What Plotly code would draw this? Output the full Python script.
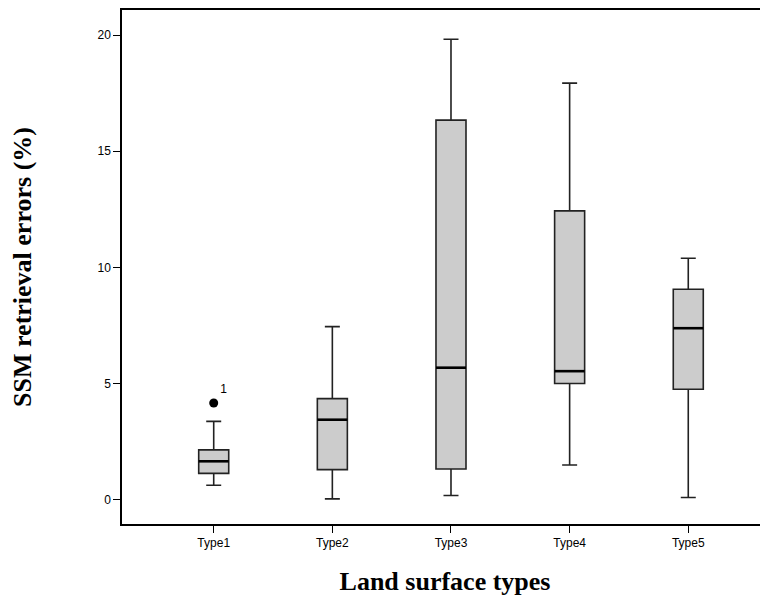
import plotly.graph_objects as go

categories = ["Type1", "Type2", "Type3", "Type4", "Type5"]
lower = [0.62, 0.03, 0.18, 1.49, 0.09]
q1 = [1.13, 1.29, 1.32, 5.00, 4.75]
median = [1.65, 3.44, 5.68, 5.53, 7.38]
q3 = [2.14, 4.35, 16.34, 12.43, 9.06]
upper = [3.37, 7.45, 19.82, 17.93, 10.39]
outlier_cat = [0]
outlier_val = [4.16]
outlier_lab = ["1"]
y_ticks = [0, 5, 10, 15, 20]

box_w = 0.253
xs = list(range(len(categories)))

fig = go.Figure()
fig.add_trace(go.Box(
    x=xs, q1=q1, median=median, q3=q3, lowerfence=lower, upperfence=upper,
    width=box_w, whiskerwidth=0.5, fillcolor="#cccccc",
    line=dict(color="#222222", width=1.6), boxpoints=False,
    showlegend=False, hoverinfo="skip"))

# thicker median lines
mx, my = [], []
for i, m in zip(xs, median):
    mx += [i - box_w / 2, i + box_w / 2, None]
    my += [m, m, None]
fig.add_trace(go.Scatter(x=mx, y=my, mode="lines",
                         line=dict(color="black", width=2.6),
                         showlegend=False, hoverinfo="skip"))

fig.add_trace(go.Scatter(x=outlier_cat, y=outlier_val, mode="markers+text",
                         marker=dict(color="black", size=9),
                         text=outlier_lab, textposition="top right",
                         textfont=dict(family="Liberation Sans, Arial", size=12, color="black"),
                         showlegend=False, hoverinfo="skip"))

fig.update_layout(
    width=760, height=590,
    margin=dict(l=114, r=0, t=2, b=74),
    plot_bgcolor="white", paper_bgcolor="white",
    font=dict(family="Liberation Sans, Arial", size=12, color="black"),
    xaxis=dict(range=[-0.773, 4.672], tickvals=xs, ticktext=categories,
               showline=True, linecolor="black", linewidth=1.5, mirror=True,
               ticks="outside", ticklen=7, tickcolor="black", showgrid=False,
               zeroline=False,
               title=dict(text="Land surface types", standoff=23,
                          font=dict(family="Liberation Serif, Times New Roman", size=26, color="black", weight="bold"))),
    yaxis=dict(range=[-1.05, 21.08], tickvals=y_ticks,
               showline=True, linecolor="black", linewidth=1.5,
               ticks="outside", ticklen=7, tickcolor="black", showgrid=False,
               zeroline=False,
               title=dict(text="SSM retrieval errors (%)", standoff=66,
                          font=dict(family="Liberation Serif, Times New Roman", size=26, color="black", weight="bold"))),
)

fig.write_html("out.html")
